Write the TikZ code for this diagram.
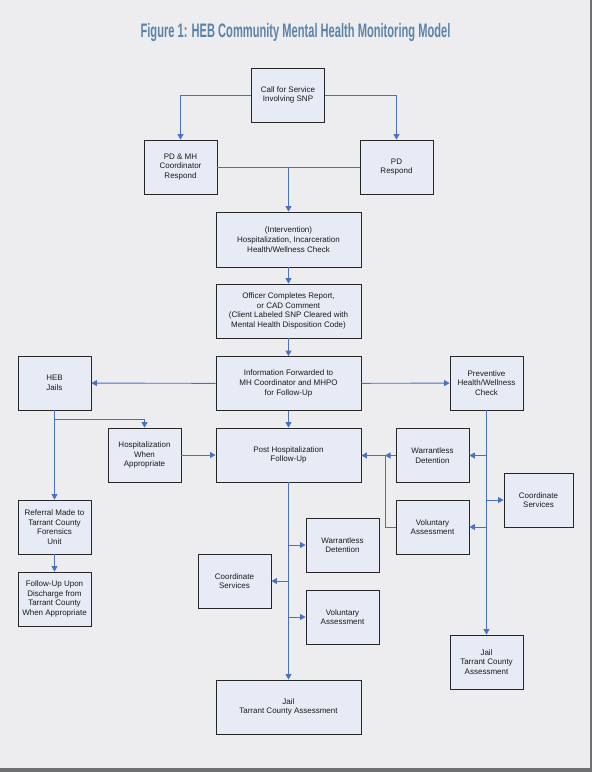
\documentclass[tikz,border=0pt]{standalone}
\usepackage{fontspec}
\usepackage{xcolor}
\usepackage{tikz}
\usetikzlibrary{arrows.meta}
\setmainfont{Liberation Sans}
\newfontfamily\titlefont[FakeStretch=0.57]{Liberation Sans Bold}
\definecolor{pagebg}{HTML}{EDEDF0}
\definecolor{pageedge}{HTML}{6E7072}
\definecolor{boxfill}{HTML}{E6EBF5}
\definecolor{flowblue}{HTML}{4A70C4}
\definecolor{titleblue}{HTML}{5C84AA}
\definecolor{boxtext}{HTML}{1A1A1A}

\begin{document}
\begin{tikzpicture}[
  x=1pt,y=-1pt,
  box/.style={draw=black!85,fill=boxfill,line width=0.9pt,minimum width=73pt,minimum height=54pt,
    inner sep=2pt,align=center,text=boxtext,font=\fontsize{8}{9.7}\selectfont},
  wide/.style={box,minimum width=145pt},
  line/.style={flowblue,line width=0.9pt},
  arrow/.style={line,-{Triangle[length=5.5pt,width=6pt]}}
]
  % page
  \fill[pagebg] (0,0) rectangle (592,772);
  \fill[pageedge] (590,0) rectangle (592,772);
  \fill[pageedge] (0,768) rectangle (592,772);
  \useasboundingbox (0,0) rectangle (592,772);
  \node[font=\titlefont\fontsize{19.5}{21}\selectfont,text=titleblue] (title) at (295.5,32)
    {Figure 1: HEB Community Mental Health Monitoring Model};
  % main column
  \node[box] (call) at (288,95) {Call for Service\\Involving SNP};
  \node[box] (pdmh) at (180.5,167) {PD \& MH\\Coordinator\\Respond};
  \node[box] (pd) at (396.5,167) {PD\\Respond};
  \node[wide,minimum height=55pt] (interv) at (288.5,239.5) {(Intervention)\\Hospitalization, Incarceration\\Health/Wellness Check};
  \node[wide] (report) at (288.5,311) {Officer Completes Report,\\or CAD Comment\\(Client Labeled SNP Cleared with\\Mental Health Disposition Code)};
  \node[wide] (info) at (288.5,383.5) {Information Forwarded to\\MH Coordinator and MHPO\\for Follow-Up};
  \node[wide] (post) at (288.5,455) {Post Hospitalization\\Follow-Up};
  \node[wide] (jailcentre) at (288.5,707) {Jail\\Tarrant County Assessment};
  % left side
  \node[box] (heb) at (54.5,383) {HEB\\Jails};
  \node[box] (hosp) at (144.5,455) {Hospitalization\\When\\Appropriate};
  \node[box] (refer) at (54.5,527) {Referral Made to\\Tarrant County\\Forensics\\Unit};
  \node[box] (followup) at (54.5,599) {Follow-Up Upon\\Discharge from\\Tarrant County\\When Appropriate};
  % right side
  \node[box] (prev) at (486.5,383) {Preventive\\Health/Wellness\\Check};
  \node[box] (wdright) at (432.5,455.5) {Warrantless\\Detention};
  \node[box,minimum width=69pt] (coordright) at (538.5,500) {Coordinate\\Services};
  \node[box] (varight) at (432.5,527) {Voluntary\\Assessment};
  \node[box] (jailright) at (486.5,662) {Jail\\Tarrant County\\Assessment};
  % below post hospitalization
  \node[box] (wdleft) at (342.5,545) {Warrantless\\Detention};
  \node[box] (coordleft) at (234.5,581) {Coordinate\\Services};
  \node[box] (valeft) at (342.5,617) {Voluntary\\Assessment};
  \coordinate (merge) at (288.5,167);
  \coordinate (hebsplit) at (54.5,419);
  \coordinate (vajoin) at (385,455.5);
  % connectors
  \draw[arrow] (call.west) -| (pdmh.north);
  \draw[arrow] (call.east) -| (pd.north);
  \draw[line] (pdmh.east)--(pd.west);
  \draw[arrow] (merge)--(interv.north);
  \draw[arrow] (interv)--(report);
  \draw[arrow] (report)--(info);
  \draw[arrow] (info)--(post);
  \draw[arrow] (info)--(heb);
  \draw[arrow] (info)--(prev);
  \draw[arrow] (heb.south)--(refer.north);
  \draw[arrow] (hebsplit)-|(hosp.north);
  \draw[arrow] (refer)--(followup);
  \draw[arrow] (hosp)--(post);
  \draw[arrow] (prev.south)--(jailright.north);
  \draw[arrow] (prev.south |- wdright.east)--(wdright.east);
  \draw[arrow] (prev.south |- coordright.west)--(coordright.west);
  \draw[arrow] (prev.south |- varight.east)--(varight.east);
  \draw[arrow] (wdright.west)--(vajoin);
  \draw[arrow] (varight.west)-|(vajoin)--(post.east |- vajoin);
  \draw[arrow] (post.south)--(jailcentre.north);
  \draw[arrow] (post.south |- wdleft.west)--(wdleft.west);
  \draw[arrow] (post.south |- coordleft.east)--(coordleft.east);
  \draw[arrow] (post.south |- valeft.west)--(valeft.west);
\end{tikzpicture}
\end{document}
